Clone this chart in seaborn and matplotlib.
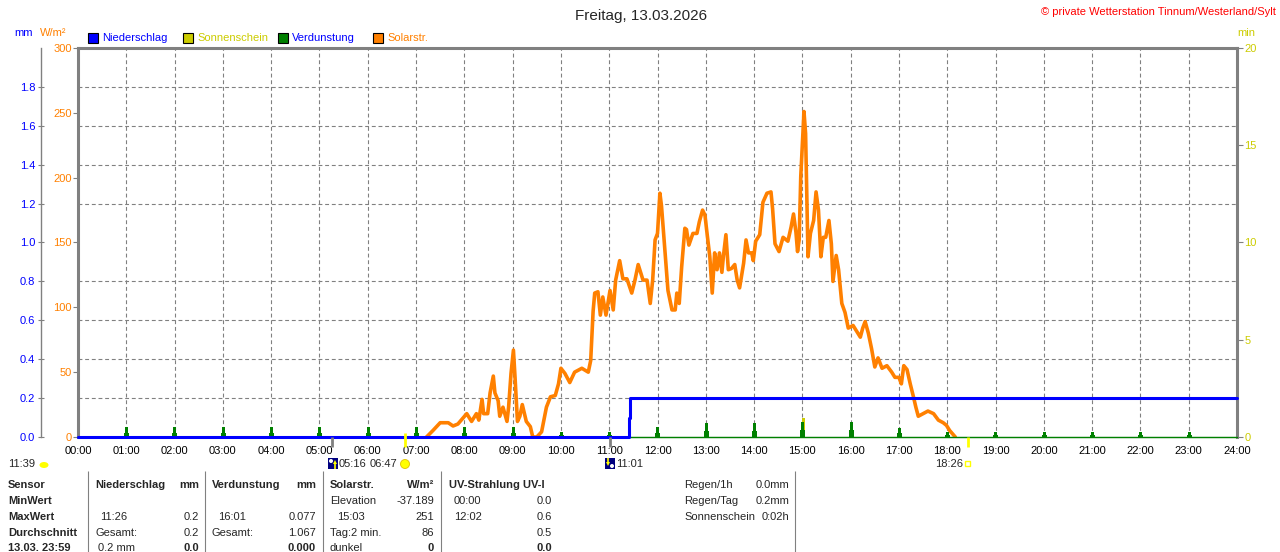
import numpy as np
import matplotlib
matplotlib.use("Agg")
import matplotlib.pyplot as plt
import seaborn as sns
from matplotlib.patches import Rectangle, Ellipse, Polygon
from matplotlib.lines import Line2D

# ---------------- data ----------------
hours = list(range(0, 25))
hour_labels = [f"{h:02d}:00" for h in hours]

solar_min = [433, 441, 450, 460, 466, 472, 483, 489, 495, 498,
             502, 504, 509, 512, 516, 518, 522, 524, 528, 533,
             535, 538, 541, 543, 546, 549, 552, 557, 562, 565,
             570, 576, 582, 587, 593, 597, 600, 605, 611, 617,
             626, 634, 637, 640, 642, 646, 649, 652, 656, 661,
             665, 668, 673, 677, 682, 688, 692, 696, 702, 707,
             711, 714, 717, 720, 723, 725, 728, 731, 733, 738,
             742, 744, 747, 750, 754, 756, 759, 764, 769, 772,
             776, 779, 781, 785, 788, 791, 794, 797, 800, 802,
             805, 808, 812, 816, 819, 822, 827, 830, 833, 837,
             839, 842, 847, 851, 856, 861, 863, 866, 871, 876,
             882, 886, 889, 892, 894, 896, 898, 902, 904, 905,
             907, 910, 914, 917, 920, 923, 926, 929, 933, 936,
             938, 942, 945, 949, 953, 957, 963, 968, 972, 975,
             978, 982, 986, 990, 994, 999, 1005, 1011, 1015, 1020,
             1023, 1026, 1030, 1034, 1038, 1041, 1044, 1050, 1056, 1063,
             1069, 1075, 1079, 1083, 1088, 1090]
solar_wm2 = [0, 5, 11, 11, 8.5, 10, 18, 12, 18, 13,
             29, 18, 18, 34, 47, 34, 28, 16, 23, 12,
             23, 49, 67, 46, 12, 16, 25, 12, 8, 0,
             0, 4, 23, 31, 32, 41, 53, 49, 42, 50,
             53, 50, 59, 97, 111, 112, 94, 108, 94, 113,
             98, 121, 136, 122, 122, 111, 121, 133, 121, 121,
             103, 121, 152, 157, 188, 178, 154, 131, 113, 98,
             98, 111, 103, 131, 161, 160, 148, 157, 157, 166,
             175, 171, 160, 139, 111, 142, 129, 142, 127, 140,
             156, 129, 130, 133, 121, 115, 134, 152, 142, 142,
             136, 151, 156, 181, 188, 189, 176, 149, 143, 154,
             151, 162, 172, 158, 143, 152, 201, 251, 234, 201,
             139, 157, 167, 189, 175, 139, 154, 154, 167, 149,
             120, 140, 129, 103, 96, 84, 86, 81, 77, 84,
             89, 80, 68, 54, 61, 53, 55, 50, 46, 46,
             41, 55, 52, 41, 31, 23, 16, 18, 20, 18,
             13, 11, 9, 5, 1.5, 0]

rain_min = [0, 684, 686, 1440]
rain_mm = [0.0, 0.1, 0.2, 0.2]

evap_hour = list(range(1, 24))
evap_mm = [0.049, 0.049, 0.049, 0.049, 0.049, 0.050, 0.050, 0.050, 0.050,
           0.024, 0.024, 0.050, 0.070, 0.070, 0.075, 0.077, 0.048, 0.027,
           0.025, 0.025, 0.025, 0.025, 0.025]

sun_min = [902]
sun_val = [1.0]

wm2_ticks = [0, 50, 100, 150, 200, 250, 300]
mm_ticks = [0.0, 0.2, 0.4, 0.6, 0.8, 1.0, 1.2, 1.4, 1.6, 1.8]
min_ticks = [0, 5, 10, 15, 20]

# ---------------- style ----------------
BLUE = "#0000FF"
ORANGE = "#FF8000"
GREEN = "#008000"
YEL = "#CCCC00"
BYEL = "#FFFF00"
GRAY = "#808080"

sns.set_style("white")
plt.rcParams["font.family"] = ["Liberation Sans", "DejaVu Sans"]
plt.rcParams["font.size"] = 8

W, H = 1280, 552
fig = plt.figure(figsize=(W / 100, H / 100), dpi=100)


def px(x):
    return x / W


def py(y):
    return 1 - y / H


ax = fig.add_axes([px(78), py(437), (1237 - 78) / W, (437 - 48) / H])
ax_min = ax.twinx()
ax_mm = ax.twinx()

# main axis (W/m2)
ax.set_xlim(0, 1440)
ax.set_ylim(0, 300)
ax.set_xticks([h * 60 for h in hours])
ax.set_xticklabels(hour_labels)
ax.set_yticks(wm2_ticks)
ax.set_yticklabels([str(v) for v in wm2_ticks])
ax.set_yticks([m * 150 for m in mm_ticks[1:]], minor=True)
ax.tick_params(axis="x", bottom=False, length=0, pad=6.5, labelsize=8, labelcolor="black")
ax.tick_params(axis="y", which="major", left=True, length=3.8, width=0.8, color=GRAY,
               labelcolor=ORANGE, labelsize=8, pad=0.6, direction="out")
ax.tick_params(axis="y", which="minor", left=False, length=0)
ax.set_axisbelow(True)
ax.xaxis.grid(True, which="major", color=GRAY, lw=0.8, ls=(0, (3.5, 2.5)))
ax.yaxis.grid(True, which="minor", color=GRAY, lw=0.8, ls=(0, (3.5, 2.5)))
ax.yaxis.grid(False, which="major")
for s in ["left", "top", "right"]:
    ax.spines[s].set_color(GRAY)
    ax.spines[s].set_linewidth(2.2)
ax.spines["bottom"].set_color(GRAY)
ax.spines["bottom"].set_linewidth(0.8)

sns.lineplot(x=solar_min, y=solar_wm2, ax=ax, color=ORANGE, lw=2.6,
             estimator=None, sort=False, solid_joinstyle="round")
ax.set_xlabel("")
ax.set_ylabel("")

# sunshine axis (min), right
ax_min.set_ylim(0, 20)
ax_min.set_yticks(min_ticks)
ax_min.set_yticklabels([str(v) for v in min_ticks])
ax_min.tick_params(axis="y", right=True, left=False, labelright=True, labelleft=False,
                   length=4.3, width=0.8, color=GRAY, labelcolor=YEL, labelsize=8,
                   pad=1.0, direction="out")
for s in ax_min.spines.values():
    s.set_visible(False)
ax_min.bar(sun_min, sun_val, width=3.7, color=YEL, lw=0, zorder=2)
ax_min.set_xlim(0, 1440)

# mm axis, left outer
ax_mm.set_ylim(0, 2)
ax_mm.set_xlim(0, 1440)
ax_mm.yaxis.tick_left()
ax_mm.set_yticks(mm_ticks)
ax_mm.set_yticklabels([f"{v:.1f}" for v in mm_ticks])
ax_mm.tick_params(axis="y", left=True, right=False, labelleft=True, labelright=False,
                  direction="inout", length=5, width=0.8, color=GRAY, labelcolor=BLUE,
                  labelsize=8, pad=1.2)
for s in ["right", "top", "bottom"]:
    ax_mm.spines[s].set_visible(False)
ax_mm.spines["left"].set_visible(True)
ax_mm.spines["left"].set_position(("axes", (40.5 - 78) / 1159))
ax_mm.spines["left"].set_color(GRAY)
ax_mm.spines["left"].set_linewidth(1.0)

ax_mm.axhline(0, color=GREEN, lw=1.0, clip_on=False, zorder=2)
ax_mm.bar([h * 60 + 0.5 for h in evap_hour], [v * 0.45 for v in evap_mm], width=6.2,
          color=GREEN, lw=0, zorder=3)
ax_mm.bar([h * 60 + 0.5 for h in evap_hour], evap_mm, width=3.7, color=GREEN, lw=0, zorder=3)
sns.lineplot(x=rain_min, y=rain_mm, ax=ax_mm, color=BLUE, lw=2.2, estimator=None,
             drawstyle="steps-post", clip_on=False, zorder=4)
ax_mm.set_xlabel("")
ax_mm.set_ylabel("")


# ---------------- figure texts ----------------
def ftext(x, y, s, **kw):
    kw.setdefault("va", "center")
    kw.setdefault("fontsize", 8)
    fig.text(px(x), py(y), s, **kw)


def fline(x1, y1, x2, y2, color, lw):
    fig.add_artist(Line2D([px(x1), px(x2)], [py(y1), py(y2)], transform=fig.transFigure,
                          color=color, lw=lw, solid_capstyle="butt"))


def frect(x, y, w, h, **kw):
    fig.add_artist(Rectangle((px(x), py(y + h)), w / W, h / H, transform=fig.transFigure, **kw))


ftext(641, 16, "Freitag, 13.03.2026", ha="center", fontsize=11)
ftext(1276, 12, "© private Wetterstation Tinnum/Westerland/Sylt", ha="right",
      color="#FF0000", fontsize=8)
ftext(14, 33, "mm", color=BLUE)
ftext(40, 33, "W/m²", color=ORANGE)
ftext(1237, 33, "min", color=YEL)

legend_items = [("Niederschlag", BLUE, BLUE, 88), ("Sonnenschein", YEL, YEL, 183),
                ("Verdunstung", GREEN, BLUE, 278), ("Solarstr.", ORANGE, ORANGE, 373)]
for name, fc, tc, x in legend_items:
    frect(x, 33, 10, 10, facecolor=fc, edgecolor="black", lw=0.8)
    ftext(x + 14, 38, name, color=tc)

# markers below the x axis
fline(332, 437, 332, 447, GRAY, 2.0)
fline(610, 437, 610, 447, GRAY, 2.0)
fline(405, 433, 405, 447, BYEL, 2.0)
fline(968, 437, 968, 447, BYEL, 2.0)

ftext(8, 464, "11:39")
fig.add_artist(Ellipse((px(44), py(465)), 9 / W, 6 / H, transform=fig.transFigure,
                       facecolor=BYEL, edgecolor="none"))
frect(328, 458, 10, 11, facecolor="#000080", edgecolor="none")
fig.add_artist(Ellipse((px(331), py(461)), 4 / W, 4 / H, transform=fig.transFigure,
                       facecolor="white", edgecolor="none"))
fig.add_artist(Polygon([(px(333), py(464)), (px(337), py(464)), (px(335), py(460))],
                       transform=fig.transFigure, facecolor=BYEL, edgecolor="none"))
fline(335, 464, 335, 469, BYEL, 1.2)
ftext(339, 464, "05:16")
ftext(370, 464, "06:47")
fig.add_artist(Ellipse((px(405), py(464)), 9 / W, 9 / H, transform=fig.transFigure,
                       facecolor=BYEL, edgecolor="#E0C000", lw=0.6))
frect(605, 458, 10, 11, facecolor="#000080", edgecolor="none")
fig.add_artist(Polygon([(px(606), py(462)), (px(610), py(462)), (px(608), py(466))],
                       transform=fig.transFigure, facecolor=BYEL, edgecolor="none"))
fline(608, 458, 608, 462, BYEL, 1.2)
fig.add_artist(Ellipse((px(612), py(466)), 4 / W, 4 / H, transform=fig.transFigure,
                       facecolor="white", edgecolor="none"))
ftext(616, 464, "11:01")
ftext(935, 464, "18:26")
frect(965, 461, 5, 5, facecolor="none", edgecolor=BYEL, lw=1.0)

# table
for x in [88, 205, 323, 441, 795]:
    fline(x, 471, x, 552, GRAY, 0.8)

rows_y = [485, 501, 517, 533, 548]
ftext(8, rows_y[0], "Sensor", fontweight="bold")
ftext(8, rows_y[1], "MinWert", fontweight="bold")
ftext(8, rows_y[2], "MaxWert", fontweight="bold")
ftext(8, rows_y[3], "Durchschnitt", fontweight="bold")
ftext(8, rows_y[4], "13.03. 23:59", fontweight="bold")

# Niederschlag column
ftext(95, rows_y[0], "Niederschlag", fontweight="bold")
ftext(199, rows_y[0], "mm", fontweight="bold", ha="right")
ftext(100, rows_y[2], "11:26")
ftext(199, rows_y[2], "0.2", ha="right")
ftext(95, rows_y[3], "Gesamt:")
ftext(199, rows_y[3], "0.2", ha="right")
ftext(98, rows_y[4], "0.2 mm")
ftext(199, rows_y[4], "0.0", ha="right", fontweight="bold")

# Verdunstung column
ftext(212, rows_y[0], "Verdunstung", fontweight="bold")
ftext(316, rows_y[0], "mm", fontweight="bold", ha="right")
ftext(218, rows_y[2], "16:01")
ftext(316, rows_y[2], "0.077", ha="right")
ftext(212, rows_y[3], "Gesamt:")
ftext(316, rows_y[3], "1.067", ha="right")
ftext(316, rows_y[4], "0.000", ha="right", fontweight="bold")

# Solar column
ftext(330, rows_y[0], "Solarstr.", fontweight="bold")
ftext(434, rows_y[0], "W/m²", fontweight="bold", ha="right")
ftext(330, rows_y[1], "Elevation")
ftext(434, rows_y[1], "-37.189", ha="right")
ftext(337, rows_y[2], "15:03")
ftext(434, rows_y[2], "251", ha="right")
ftext(330, rows_y[3], "Tag:2 min.")
ftext(434, rows_y[3], "86", ha="right")
ftext(330, rows_y[4], "dunkel")
ftext(434, rows_y[4], "0", ha="right", fontweight="bold")

# UV column
ftext(449, rows_y[0], "UV-Strahlung UV-I", fontweight="bold")
ftext(454, rows_y[1], "00:00")
ftext(552, rows_y[1], "0.0", ha="right")
ftext(454, rows_y[2], "12:02")
ftext(552, rows_y[2], "0.6", ha="right")
ftext(552, rows_y[3], "0.5", ha="right")
ftext(552, rows_y[4], "0.0", ha="right", fontweight="bold")

# summary block
ftext(684, rows_y[0], "Regen/1h")
ftext(789, rows_y[0], "0.0mm", ha="right")
ftext(684, rows_y[1], "Regen/Tag")
ftext(789, rows_y[1], "0.2mm", ha="right")
ftext(684, rows_y[2], "Sonnenschein")
ftext(789, rows_y[2], "0:02h", ha="right")

fig.savefig("out.png", dpi=100, facecolor="white")
